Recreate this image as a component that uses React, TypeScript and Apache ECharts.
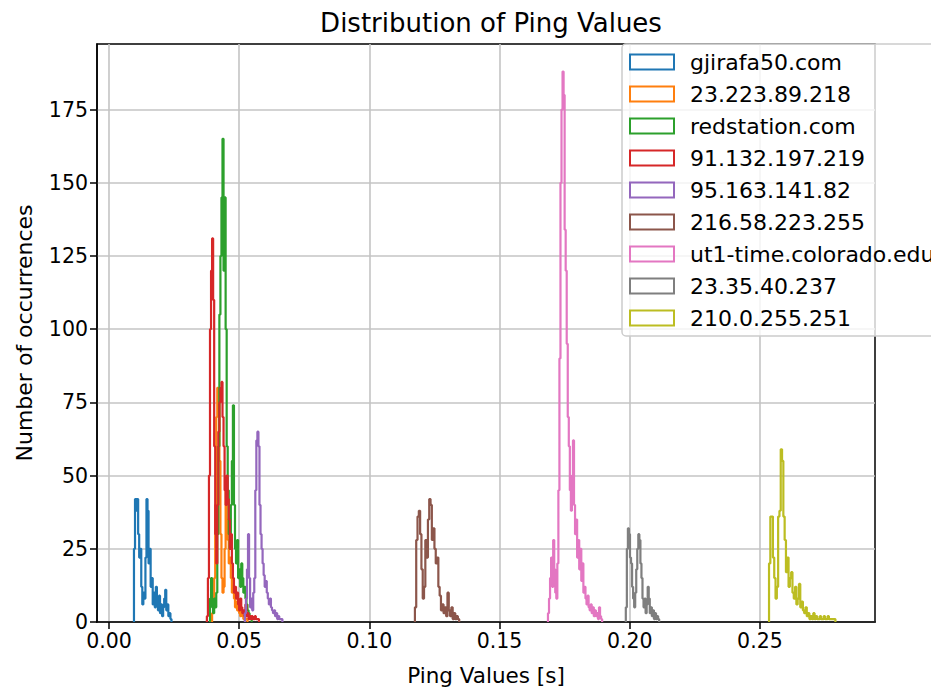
import React, { useEffect, useRef } from "react";
import * as echarts from "echarts";

const seriesNames = [
  "gjirafa50.com",
  "23.223.89.218",
  "redstation.com",
  "91.132.197.219",
  "95.163.141.82",
  "216.58.223.255",
  "ut1-time.colorado.edu",
  "23.35.40.237",
  "210.0.255.251",
];

const colors = [
  "#1f77b4",
  "#ff7f0e",
  "#2ca02c",
  "#d62728",
  "#9467bd",
  "#8c564b",
  "#e377c2",
  "#7f7f7f",
  "#bcbd22",
];

// first bin edge [s] and bin width [s] of each histogram
const binStarts = [0.0096, 0.0396, 0.0388, 0.0376, 0.0522, 0.1175, 0.1686, 0.1985, 0.2535];
const binWidths = [0.0004, 0.0004, 0.0004, 0.0004, 0.0004, 0.0005, 0.0004, 0.0004, 0.0005];

// bin counts
const gjirafaCounts = [25, 42, 38, 42, 30, 22, 25, 12, 6, 10, 8, 22, 42, 38, 20, 25, 12, 15, 6, 10, 5, 12, 7, 4, 9, 3, 6, 2, 5, 8, 11, 4, 6, 2, 3, 1];
const ip23223Counts = [3, 8, 15, 40, 70, 80, 78, 55, 30, 15, 10, 12, 25, 45, 35, 28, 20, 22, 15, 10, 12, 8, 5, 7, 4, 6, 3, 2, 4, 2, 1, 2, 1, 1];
const redstationCounts = [8, 15, 5, 3, 8, 5, 10, 30, 60, 105, 125, 145, 165, 120, 145, 100, 60, 45, 30, 25, 40, 55, 74, 40, 25, 20, 28, 15, 18, 12, 20, 15, 10, 12, 8, 6, 4, 3, 2, 1];
const ip91132Counts = [2, 15, 50, 100, 120, 131, 110, 60, 30, 20, 40, 65, 75, 80, 82, 70, 60, 45, 40, 50, 42, 35, 25, 30, 20, 15, 10, 12, 8, 10, 6, 4, 8, 5, 3, 4, 2, 6, 2, 3, 1, 2, 1, 2, 1, 1, 2, 1, 1, 1];
const ip95163Counts = [3, 8, 18, 30, 15, 5, 8, 4, 10, 15, 45, 62, 65, 60, 40, 30, 25, 20, 16, 12, 14, 10, 8, 6, 8, 5, 4, 3, 4, 2, 3, 1, 2, 1, 1, 1];
const ip21658Counts = [5, 28, 36, 38, 30, 18, 8, 12, 28, 22, 35, 42, 40, 28, 32, 25, 20, 22, 12, 9, 4, 6, 3, 5, 2, 10, 4, 2, 5, 1, 3, 1, 2, 1];
const ut1Counts = [3, 8, 15, 22, 12, 28, 18, 10, 8, 20, 45, 90, 150, 175, 188, 180, 134, 120, 95, 70, 60, 45, 38, 50, 62, 40, 30, 35, 22, 28, 18, 25, 14, 20, 10, 12, 8, 6, 9, 5, 4, 6, 3, 5, 2, 4, 2, 3, 1, 5, 2, 1];
const ip2335Counts = [5, 25, 32, 30, 22, 20, 12, 8, 5, 10, 18, 25, 30, 28, 20, 15, 8, 5, 8, 3, 6, 12, 8, 3, 5, 2, 4, 1, 3, 1, 2, 1];
const ip2100Counts = [20, 36, 36, 22, 15, 8, 12, 36, 38, 59, 55, 36, 28, 17, 22, 12, 15, 17, 10, 8, 12, 6, 8, 13, 5, 7, 4, 3, 5, 2, 3, 1, 2, 1, 3, 1, 2, 1, 1, 2, 1, 1, 2, 1, 1, 2, 1, 1, 1, 1, 1];

const allCounts = [
  gjirafaCounts,
  ip23223Counts,
  redstationCounts,
  ip91132Counts,
  ip95163Counts,
  ip21658Counts,
  ut1Counts,
  ip2335Counts,
  ip2100Counts,
];

const xTicks = [0, 0.05, 0.1, 0.15, 0.2, 0.25];
const yTicks = [0, 25, 50, 75, 100, 125, 150, 175];

function stepOutline(start: number, width: number, counts: number[]) {
  const pts: number[][] = [[start, 0]];
  counts.forEach((c, i) => {
    const x0 = start + i * width;
    const x1 = start + (i + 1) * width;
    pts.push([x0, c], [x1, c]);
  });
  pts.push([start + counts.length * width, 0]);
  return pts;
}

const FONT = "DejaVu Sans";

export default function App() {
  const ref = useRef<HTMLDivElement>(null);

  useEffect(() => {
    if (!ref.current) return;
    const chart = echarts.init(ref.current, undefined, { renderer: "svg" });

    const series = seriesNames.map((name, i) => ({
      name,
      type: "line" as const,
      data: stepOutline(binStarts[i], binWidths[i], allCounts[i]),
      showSymbol: false,
      symbol: "none",
      lineStyle: { color: colors[i], width: 2.2 },
      itemStyle: { color: colors[i] },
      z: 3 + i,
      clip: true,
    }));

    chart.setOption({
      animation: false,
      backgroundColor: "#ffffff",
      title: {
        text: "Distribution of Ping Values",
        left: 486,
        textAlign: "center",
        top: 5,
        textStyle: { fontFamily: FONT, fontSize: 26, fontWeight: "normal", color: "#000" },
      },
      grid: {
        left: 97,
        right: 56,
        top: 44,
        bottom: 67,
        show: true,
        borderColor: "#000",
        borderWidth: 1.5,
        backgroundColor: "transparent",
      },
      legend: {
        orient: "vertical",
        left: 622,
        top: 44,
        padding: [7, 8, 7, 7],
        itemWidth: 44,
        itemHeight: 15,
        itemGap: 10,
        backgroundColor: "rgba(255,255,255,0.8)",
        borderColor: "#cccccc",
        borderWidth: 1.5,
        borderRadius: 4,
        textStyle: { fontFamily: FONT, fontSize: 22, color: "#000", lineHeight: 22, padding: [0, 0, 0, 11] },
        data: seriesNames.map((name, i) => ({
          name,
          icon: "rect",
          itemStyle: { color: "rgba(255,255,255,0)", borderColor: colors[i], borderWidth: 2 },
        })),
        selectedMode: false,
      },
      xAxis: {
        type: "value",
        min: -0.0046,
        max: 0.2942,
        name: "Ping Values [s]",
        nameLocation: "middle",
        nameGap: 42,
        nameTextStyle: { fontFamily: FONT, fontSize: 21.5, color: "#000" },
        axisLine: { show: true, onZero: false, lineStyle: { color: "#000", width: 1.5 } },
        axisTick: { show: true, length: 7, inside: false, customValues: xTicks, lineStyle: { color: "#000", width: 1.5 } },
        axisLabel: {
          customValues: xTicks,
          margin: 8,
          fontFamily: FONT,
          fontSize: 20.5,
          color: "#000",
          formatter: (v: number) => v.toFixed(2),
        },
        splitLine: { show: true, lineStyle: { color: "#c4c4c4", width: 1.6 } },
      },
      yAxis: {
        type: "value",
        min: 0,
        max: 197.4,
        name: "Number of occurrences",
        nameLocation: "middle",
        nameGap: 62,
        nameTextStyle: { fontFamily: FONT, fontSize: 22, color: "#000" },
        axisLine: { show: true, onZero: false, lineStyle: { color: "#000", width: 1.5 } },
        axisTick: { show: true, length: 7, inside: false, customValues: yTicks, lineStyle: { color: "#000", width: 1.5 } },
        axisLabel: {
          customValues: yTicks,
          margin: 9,
          fontFamily: FONT,
          fontSize: 20.5,
          color: "#000",
          formatter: (v: number) => String(Math.round(v)),
        },
        splitLine: { show: true, lineStyle: { color: "#c4c4c4", width: 1.6 } },
      },
      series,
    });

    return () => {
      chart.dispose();
    };
  }, []);

  return (
    <div
      ref={ref}
      style={{ position: "fixed", left: 0, top: 0, width: 931, height: 691, background: "#fff" }}
    />
  );
}
